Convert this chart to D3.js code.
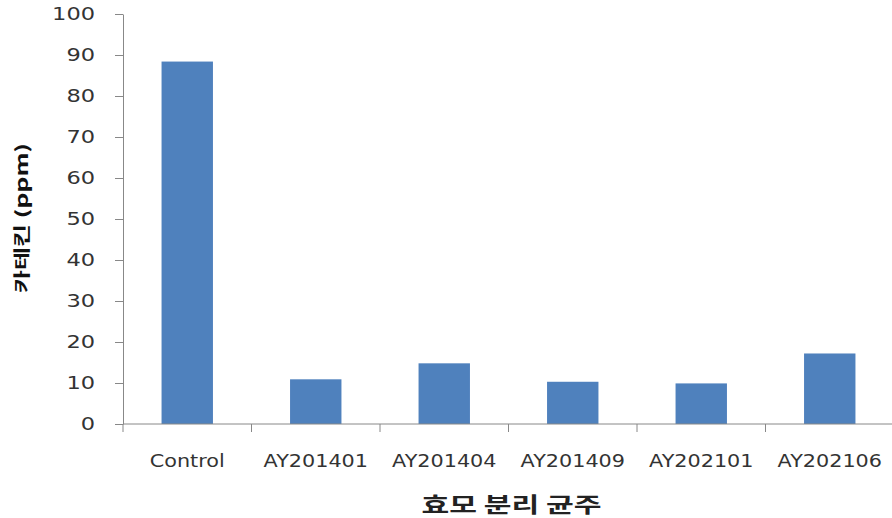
<!DOCTYPE html>
<html><head><meta charset="utf-8">
<script src="https://cdn.jsdelivr.net/npm/d3@7"></script>
<style>body{margin:0;background:#fff}svg{display:block}</style>
</head><body>
<svg id="c" width="892" height="518"></svg>
<script>
const categories = ["Control", "AY201401", "AY201404", "AY201409", "AY202101", "AY202106"];
const values = [88.4, 10.9, 14.8, 10.3, 9.9, 17.2];
const yTicks = [0, 10, 20, 30, 40, 50, 60, 70, 80, 90, 100];
const xTitle = "효모 분리 균주";
const yTitle = "카테킨 (ppm)";

const svg = d3.select("#c");
const pLeft = 123, pRight = 894, pTop = 14, pBottom = 424;
const stretch = 1.25;
const textColor = "#333";
const axisColor = "#888";
const barColor = "#4F81BD";

const x = d3.scaleBand().domain(categories).range([pLeft, pRight]).paddingInner(0.6).paddingOuter(0.3);
const y = d3.scaleLinear().domain([0, 100]).range([pBottom, pTop]);

function widen(sel, f) {
  sel.each(function() {
    const w = this.getComputedTextLength();
    d3.select(this).attr("textLength", w * f).attr("lengthAdjust", "spacingAndGlyphs");
  });
}

// bars
svg.append("g").selectAll("rect").data(values).join("rect")
  .attr("x", (d, i) => x(categories[i]))
  .attr("width", x.bandwidth())
  .attr("y", d => y(d))
  .attr("height", d => y(0) - y(d))
  .attr("fill", barColor);

// y axis
const ya = svg.append("g").attr("transform", `translate(${pLeft},0)`)
  .call(d3.axisLeft(y).tickValues(yTicks).tickSize(8).tickPadding(20).tickSizeOuter(0));
ya.select(".domain").attr("stroke", axisColor);
ya.selectAll(".tick line").attr("stroke", axisColor);
ya.selectAll(".tick text").attr("fill", textColor)
  .style("font-family", "'DejaVu Sans', Verdana, sans-serif").style("font-size", "18px");
widen(ya.selectAll(".tick text"), stretch);

// x axis
const xa = svg.append("g").attr("transform", `translate(0,${pBottom})`)
  .call(d3.axisBottom(x).tickSize(0).tickPadding(31).tickSizeOuter(0));
xa.select(".domain").remove();
xa.append("line").attr("x1", pLeft).attr("x2", pRight).attr("stroke", axisColor);
const bounds = d3.range(categories.length + 1).map(i => pLeft + i * x.step());
xa.selectAll(".bound").data(bounds).join("line").attr("class", "bound")
  .attr("x1", d => d).attr("x2", d => d).attr("y1", 0).attr("y2", 8).attr("stroke", axisColor);
xa.selectAll(".tick text").attr("fill", textColor)
  .style("font-family", "'DejaVu Sans', Verdana, sans-serif").style("font-size", "17px");
widen(xa.selectAll(".tick text"), 1.22);

// titles
svg.append("text").text(xTitle)
  .attr("x", (pLeft + pRight) / 2 + 3).attr("y", 512).attr("text-anchor", "middle")
  .attr("fill", "#222").style("font-family", "'Noto Sans CJK KR', sans-serif")
  .style("font-size", "21px").style("font-weight", "bold")
  .attr("textLength", 180).attr("lengthAdjust", "spacingAndGlyphs");

svg.append("text").text(yTitle)
  .attr("transform", "translate(28,218) rotate(-90)").attr("text-anchor", "middle")
  .attr("fill", "#111").style("font-family", "'Noto Sans CJK KR', sans-serif")
  .style("font-size", "17px").style("font-weight", "bold")
  .attr("textLength", 150).attr("lengthAdjust", "spacingAndGlyphs");
</script>
</body></html>
